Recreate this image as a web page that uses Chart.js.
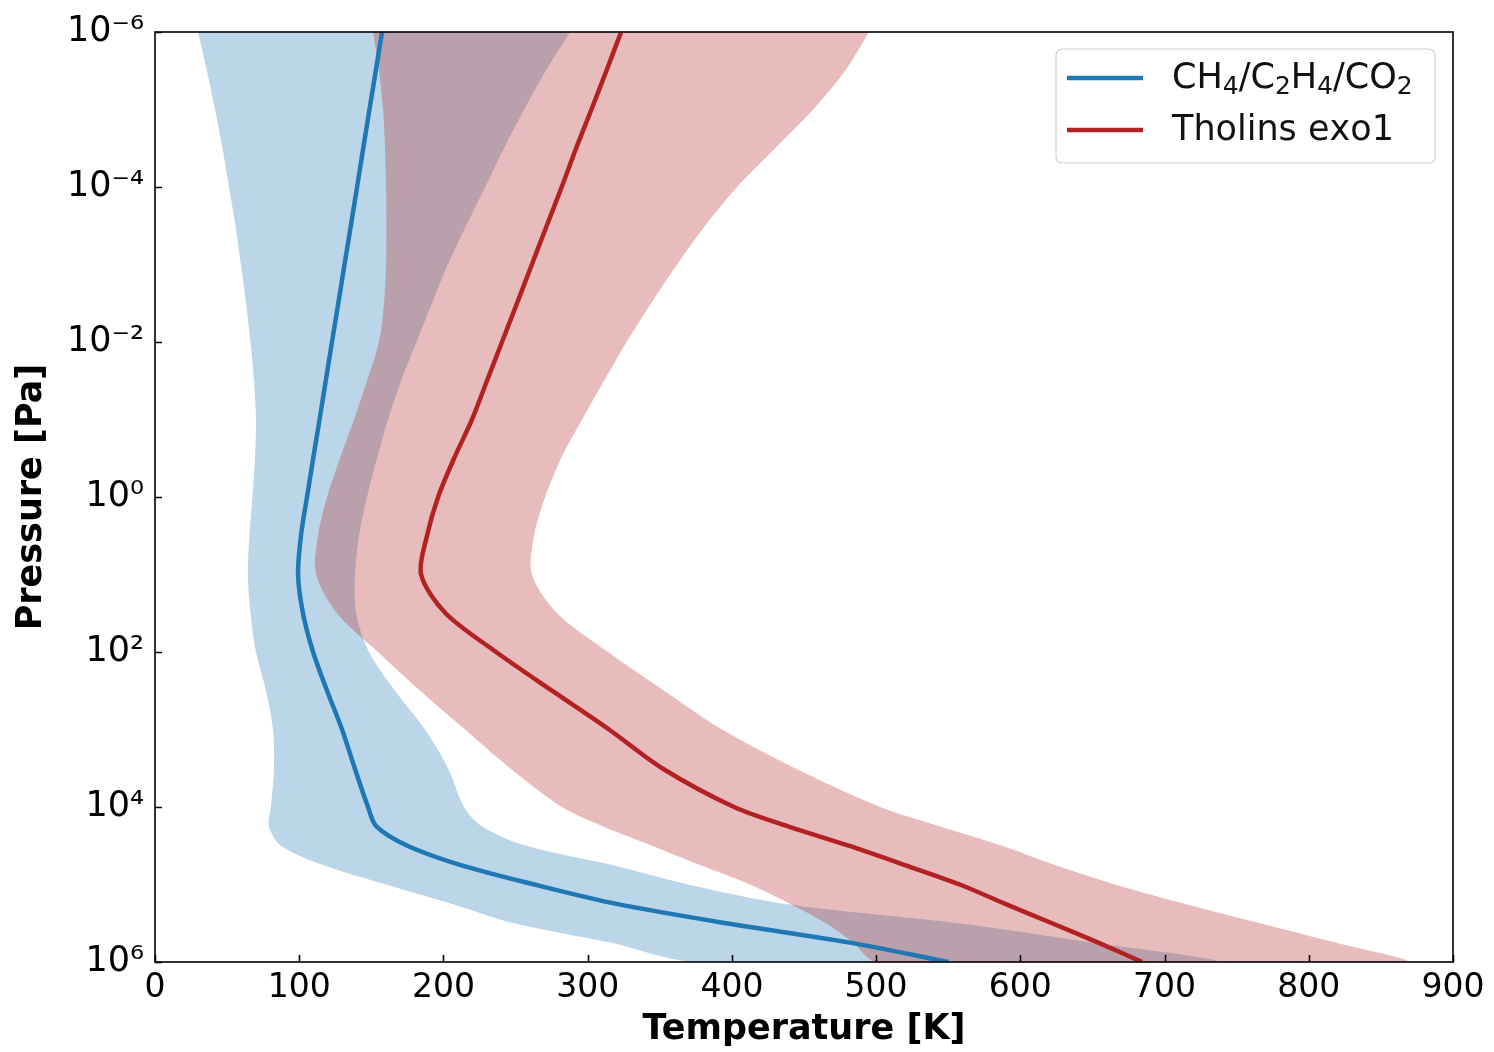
<!DOCTYPE html>
<html>
<head>
<meta charset="utf-8">
<title>Temperature-pressure profiles</title>
<script src="https://cdn.jsdelivr.net/npm/chart.js@4.4.1/dist/chart.umd.min.js"></script>
<style>
    html, body { margin: 0; padding: 0; background: #fff; }
    #wrap { width: 1494px; height: 1052px; }
</style>
</head>
<body>
<div id="wrap"><canvas id="profile-chart" width="1494" height="1052"></canvas></div>
<script>
// pressure levels [Pa], shared by every profile below
const pressure = [1e-6, 3.16e-6, 1e-5, 3.16e-5, 1e-4, 3.16e-4, 1e-3, 3.16e-3, 1e-2, 3.16e-2,
    0.1, 0.316, 1, 3.16, 10, 31.6, 100, 316, 1000, 3160,
    1e4, 1.78e4, 3.16e4, 5.62e4, 1e5, 1.78e5, 3.16e5, 5.62e5, 1e6];

// CH4/C2H4/CO2 temperature [K]
const methaneT = [157.4, 153.1, 148.7, 144.4, 140.1, 135.8, 131.4, 127.1, 122.7, 118.4,
    114.1, 109.7, 105.4, 101.2, 99.2, 102.6, 109.6, 119.3, 129.7, 138.5,
    147.7, 153.5, 175, 212, 263, 320, 396, 482, 550];
const methaneLow = [29.8, 36, 41.6, 46.8, 51.3, 55.8, 59.6, 63.1, 66.2, 68.6,
    70, 69.3, 67.6, 65.5, 64.4, 66.2, 70, 77, 81.8, 82.5,
    80.4, 79, 87.4, 116.5, 160, 206, 249, 315.5, 374.5];
const methaneHigh = [287.8, 271, 256, 242, 229, 215.7, 203, 192, 181.3, 170.6,
    161.6, 154, 147, 141.5, 138.7, 139.4, 148.4, 166.4, 187.2, 203.2,
    214.3, 226.8, 257.3, 317, 369.6, 437, 557, 649.8, 735];

// Tholins exo1 temperature [K]
const tholinT = [323.2, 313, 302.6, 292, 282, 271.6, 261.3, 251, 240.6, 230.2,
    219.8, 207.4, 196.3, 188.6, 184.5, 201.5, 236.5, 275.3, 314.8, 351.6,
    401.5, 439, 481, 520, 558, 589.5, 622, 654, 684.5];
const tholinLow = [151.2, 155.3, 158.1, 159.5, 160.2, 160.5, 160.2, 158.8, 155.3, 147,
    138, 128.3, 119.3, 113, 111.7, 126.2, 154.6, 183.8, 215, 246.2,
    282.2, 310.7, 344.7, 378, 412.6, 440.4, 465.3, 484, 500];
const tholinHigh = [495.1, 478.5, 456.3, 430, 403.6, 381.4, 362, 344, 327, 311.4,
    296.1, 281.6, 270.5, 262.8, 261.4, 278.8, 314.1, 353, 393.2, 443.8,
    502.8, 544.4, 587.4, 624.1, 665.7, 714.3, 766.3, 818.3, 866.9];

const pressureTicks = [1e-6, 1e-4, 1e-2, 1, 1e2, 1e4, 1e6];
const pressureTickLabels = ['10⁻⁶', '10⁻⁴', '10⁻²', '10⁰', '10²', '10⁴', '10⁶'];

const blue = '#1f77b4';
const red = '#b22222';

function profile(temps) {
    return temps.map((t, i) => ({x: t, y: pressure[i]}));
}

// closed outline: down the low edge, back up the high edge
function band(low, high) {
    return profile(low).concat(profile(high).reverse());
}

const frameAndTicks = {
    id: 'frameAndTicks',
    afterDraw(chart) {
        const {ctx, chartArea: a, scales} = chart;
        ctx.save();
        ctx.strokeStyle = '#000';
        ctx.lineWidth = 1.6;
        ctx.strokeRect(a.left, a.top, a.right - a.left, a.bottom - a.top);
        ctx.beginPath();
        scales.x.ticks.forEach(t => {
            const px = Math.round(scales.x.getPixelForValue(t.value)) + 0.5;
            ctx.moveTo(px, a.bottom);
            ctx.lineTo(px, a.bottom - 7);
        });
        scales.y.ticks.forEach(t => {
            const py = Math.round(scales.y.getPixelForValue(t.value)) + 0.5;
            ctx.moveTo(a.left, py);
            ctx.lineTo(a.left + 7, py);
        });
        ctx.stroke();
        ctx.restore();
    }
};

// writes a label, dropping unicode subscript digits down like mathtext does
function drawLabel(ctx, text, x, y) {
    let cx = x;
    for (const ch of text) {
        const code = ch.charCodeAt(0);
        if (code >= 0x2080 && code <= 0x2089) {
            const digit = String.fromCharCode(code - 0x2080 + 48);
            ctx.font = '25px "DejaVu Sans"';
            ctx.fillText(digit, cx, y + 8);
            cx += ctx.measureText(digit).width;
        } else {
            ctx.font = '35px "DejaVu Sans"';
            ctx.fillText(ch, cx, y);
            cx += ctx.measureText(ch).width;
        }
    }
}

const boxLegend = {
    id: 'boxLegend',
    afterDraw(chart) {
        const {ctx, chartArea: a} = chart;
        const entries = chart.data.datasets.filter(d => d.inLegend);
        const x0 = a.right - 397, y0 = a.top + 17, w = 379, h = 114;
        ctx.save();
        ctx.beginPath();
        ctx.roundRect(x0, y0, w, h, 6);
        ctx.fillStyle = 'rgba(255,255,255,0.8)';
        ctx.fill();
        ctx.strokeStyle = '#d0d0d0';
        ctx.lineWidth = 1.2;
        ctx.stroke();
        ctx.textBaseline = 'middle';
        ctx.fillStyle = '#111';
        entries.forEach((d, i) => {
            const y = y0 + 29 + i * 52;
            ctx.beginPath();
            ctx.strokeStyle = d.borderColor;
            ctx.lineWidth = 4.5;
            ctx.moveTo(x0 + 11, y);
            ctx.lineTo(x0 + 87, y);
            ctx.stroke();
            drawLabel(ctx, d.label, x0 + 116, y + 1);
        });
        ctx.restore();
    }
};

function bandDataset(low, high, color, order) {
    return {
        label: '',
        data: band(low, high),
        fill: 'shape',
        backgroundColor: color,
        borderColor: 'transparent',
        borderWidth: 0,
        pointRadius: 0,
        tension: 0.3,
        order: order
    };
}

function lineDataset(label, temps, color, order) {
    return {
        label: label,
        inLegend: true,
        data: profile(temps),
        fill: false,
        borderColor: color,
        borderWidth: 4.5,
        pointRadius: 0,
        tension: 0.3,
        order: order
    };
}

function initializeProfileChart() {
    Chart.defaults.font.family = '"DejaVu Sans", sans-serif';
    Chart.defaults.color = '#000';

    const context = document.getElementById('profile-chart').getContext('2d');
    new Chart(context, {
        type: 'line',
        data: {
            datasets: [
                bandDataset(methaneLow, methaneHigh, 'rgba(31,119,180,0.3)', 4),
                bandDataset(tholinLow, tholinHigh, 'rgba(178,34,34,0.3)', 3),
                lineDataset('CH₄/C₂H₄/CO₂', methaneT, blue, 1),
                lineDataset('Tholins exo1', tholinT, red, 2)
            ]
        },
        options: {
            responsive: false,
            animation: false,
            layout: {padding: {top: 29, right: 41, left: 0, bottom: 0}},
            plugins: {
                legend: {display: false},
                tooltip: {enabled: false}
            },
            scales: {
                x: {
                    type: 'linear',
                    min: 0,
                    max: 900,
                    grid: {display: false, drawTicks: false},
                    border: {display: false},
                    ticks: {stepSize: 100, autoSkip: false, maxRotation: 0, padding: 7, font: {size: 33}},
                    title: {display: true, text: 'Temperature [K]', font: {size: 35, weight: 'bold'}, padding: {top: 0, bottom: 1}},
                    afterFit: (scale) => { scale.height = 90; }
                },
                y: {
                    type: 'logarithmic',
                    reverse: true,
                    min: 1e-6,
                    max: 1e6,
                    grid: {display: false, drawTicks: false},
                    border: {display: false},
                    afterBuildTicks: (scale) => {
                        scale.ticks = pressureTicks.map(v => ({value: v}));
                    },
                    ticks: {
                        autoSkip: false,
                        padding: 11,
                        font: {size: 35},
                        callback: (value, index) => pressureTickLabels[index]
                    },
                    title: {display: true, text: 'Pressure [Pa]', font: {size: 35, weight: 'bold'}, padding: {top: 11, bottom: 0}},
                    afterFit: (scale) => { scale.width = 155; }
                }
            }
        },
        plugins: [frameAndTicks, boxLegend]
    });
}

window.onload = () => {
    initializeProfileChart();
};
</script>
</body>
</html>
